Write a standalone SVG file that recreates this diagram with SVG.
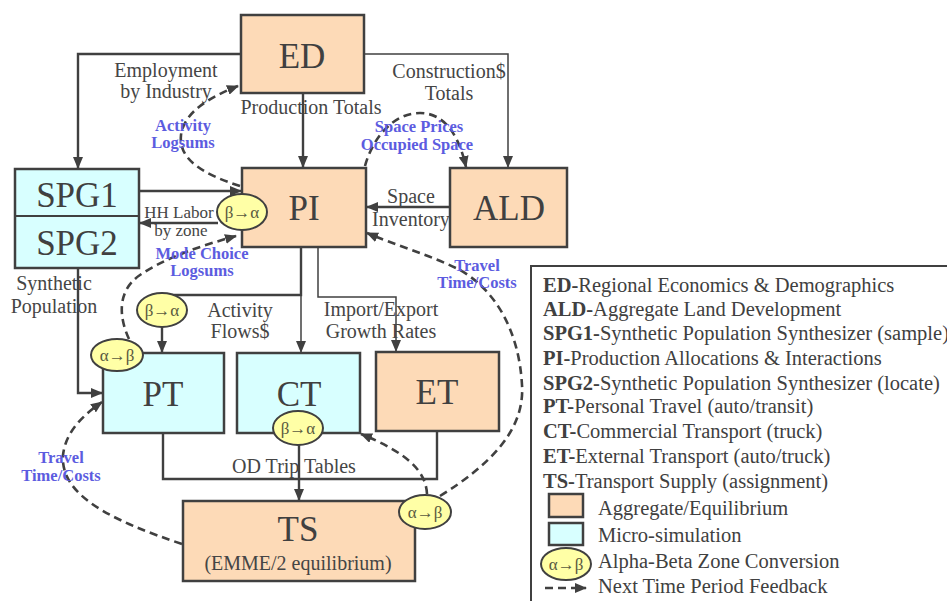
<svg xmlns="http://www.w3.org/2000/svg" width="947" height="601" viewBox="0 0 947 601">
<defs>
<marker id="ah" markerUnits="userSpaceOnUse" markerWidth="12" markerHeight="10" refX="11" refY="5" orient="auto">
<path d="M0,0 L12,5 L0,10 z" fill="#404040"/>
</marker>
<style>
.agg{fill:#FDDAB7;stroke:#404040;stroke-width:2.5}
.mic{fill:#D8FFFF;stroke:#404040;stroke-width:2.5}
.ell{fill:#FFFFA6;stroke:#404040;stroke-width:2}
.big{font-family:"Liberation Serif",serif;font-size:35px;fill:#404040;text-anchor:middle}
.lbl{font-family:"Liberation Serif",serif;font-size:20px;fill:#454545;text-anchor:middle}
.blue{font-family:"Liberation Serif",serif;font-size:16.5px;font-weight:bold;fill:#5C5CE0;text-anchor:middle}
.et{font-family:"Liberation Serif",serif;font-size:17px;fill:#5a5a40;text-anchor:middle}
.leg{font-family:"Liberation Serif",serif;font-size:20.5px;fill:#404040}
.ln{fill:none;stroke:#404040;stroke-width:2.4}
.thin{fill:none;stroke:#404040;stroke-width:1.5}
.dash{fill:none;stroke:#404040;stroke-width:2.6;stroke-dasharray:8,5}
</style>
</defs>
<rect width="947" height="601" fill="#fff"/>

<g id="connectors">
<path class="ln" d="M241,54 H78 V168" marker-end="url(#ah)"/>
<path class="thin" d="M364,54 H508 V167" marker-end="url(#ah)"/>
<path class="ln" d="M303,93 V167" marker-end="url(#ah)"/>
<path class="ln" d="M139,191 H241" marker-end="url(#ah)"/>
<path class="ln" d="M218,223 H140" marker-end="url(#ah)"/>
<path class="ln" d="M450,207 H367" marker-end="url(#ah)"/>
<path class="ln" d="M301,247 V295 H172"/>
<path class="thin" d="M301,295 V352" marker-end="url(#ah)"/>
<path class="ln" d="M162,327 V352" marker-end="url(#ah)"/>
<path class="thin" d="M318,247 V297 H396 V351" marker-end="url(#ah)"/>
<path class="ln" d="M78,268 V393 H102" marker-end="url(#ah)"/>
<path class="ln" d="M163,433 V479 H437 V431"/>
<path class="ln" d="M299,445 V500" marker-end="url(#ah)"/>
<path class="dash" d="M240,186 C205,175 178,160 181,135 C184,112 210,97 238,86" marker-end="url(#ah)"/>
<path class="dash" d="M365,166 C372,140 392,113 420,113 C447,113 460,140 466,167" marker-end="url(#ah)"/>
<path class="dash" d="M129,339 C118,315 118,290 140,275 C165,258 200,246 236,236" marker-end="url(#ah)"/>
<path class="dash" d="M182,544 C110,520 60,495 63,455 C66,430 85,414 102,402" marker-end="url(#ah)"/>
<path class="dash" d="M440,496 C490,465 525,430 522,385 C519,330 495,290 460,270 C430,255 395,245 367,233" marker-end="url(#ah)"/>
<path class="dash" d="M427,494 C426,470 405,452 361,434" marker-end="url(#ah)"/>
</g>

<g id="ED"><rect class="agg" x="241" y="15" width="123" height="78"/><text class="big" x="302" y="68">ED</text></g>
<g id="PI"><rect class="agg" x="242" y="168" width="124" height="79"/><text class="big" x="304" y="220">PI</text></g>
<g id="ALD"><rect class="agg" x="450" y="168" width="117" height="79"/><text class="big" x="509" y="220">ALD</text></g>
<g id="SPG"><rect class="mic" x="15" y="169" width="124" height="99"/><line x1="15" y1="216" x2="139" y2="216" stroke="#404040" stroke-width="2"/><text class="big" x="77" y="207">SPG1</text><text class="big" x="77" y="255">SPG2</text></g>
<g id="PT"><rect class="mic" x="103" y="353" width="121" height="80"/><text class="big" x="163" y="406">PT</text></g>
<g id="CT"><rect class="mic" x="237" y="353" width="123" height="80"/><text class="big" x="299" y="406">CT</text></g>
<g id="ET"><rect class="agg" x="376" y="352" width="123" height="79"/><text class="big" x="437" y="404">ET</text></g>
<g id="TS"><rect class="agg" x="183" y="501" width="232" height="80"/><text class="big" x="298" y="541">TS</text><text class="lbl" x="298" y="570">(EMME/2 equilibrium)</text></g>

<g id="conv1"><ellipse class="ell" cx="242" cy="212" rx="25" ry="18"/><text class="et" x="242" y="218">β→α</text></g>
<g id="conv2"><ellipse class="ell" cx="162" cy="310" rx="25" ry="17"/><text class="et" x="162" y="316">β→α</text></g>
<g id="conv3"><ellipse class="ell" cx="117" cy="355" rx="26" ry="16"/><text class="et" x="117" y="361">α→β</text></g>
<g id="conv4"><ellipse class="ell" cx="298" cy="428" rx="25" ry="17"/><text class="et" x="298" y="434">β→α</text></g>
<g id="conv5"><ellipse class="ell" cx="425" cy="512" rx="26" ry="17"/><text class="et" x="425" y="518">α→β</text></g>

<g id="labels">
<text class="lbl" x="166" y="77">Employment</text>
<text class="lbl" x="166" y="98">by Industry</text>
<text class="lbl" x="311" y="114">Production Totals</text>
<text class="lbl" x="449" y="78">Construction$</text>
<text class="lbl" x="449" y="100">Totals</text>
<text class="lbl" x="411" y="203">Space</text>
<text class="lbl" x="411" y="226">Inventory</text>
<text class="lbl" x="179" y="218" style="font-size:17px">HH Labor</text>
<text class="lbl" x="181" y="236" style="font-size:17px">by zone</text>
<text class="lbl" x="54" y="290">Synthetic</text>
<text class="lbl" x="54" y="313">Population</text>
<text class="lbl" x="240" y="317">Activity</text>
<text class="lbl" x="240" y="338">Flows$</text>
<text class="lbl" x="381" y="316">Import/Export</text>
<text class="lbl" x="381" y="338">Growth Rates</text>
<text class="lbl" x="294" y="473">OD Trip Tables</text>
<text class="blue" x="183" y="131">Activity</text>
<text class="blue" x="183" y="148">Logsums</text>
<text class="blue" x="419" y="132">Space Prices</text>
<text class="blue" x="417" y="150">Occupied Space</text>
<text class="blue" x="202" y="259">Mode Choice</text>
<text class="blue" x="202" y="276">Logsums</text>
<text class="blue" x="477" y="271">Travel</text>
<text class="blue" x="477" y="288">Time/Costs</text>
<text class="blue" x="61" y="463">Travel</text>
<text class="blue" x="61" y="481">Time/Costs</text>
</g>

<g id="legend">
<rect x="531" y="266" width="440" height="400" fill="#fff" stroke="#404040" stroke-width="2"/>
<text class="leg" x="543" y="292"><tspan font-weight="bold">ED-</tspan>Regional Economics &amp; Demographics</text>
<text class="leg" x="543" y="316"><tspan font-weight="bold">ALD-</tspan>Aggregate Land Development</text>
<text class="leg" x="543" y="340"><tspan font-weight="bold">SPG1-</tspan>Synthetic Population Synthesizer (sample)</text>
<text class="leg" x="543" y="365"><tspan font-weight="bold">PI-</tspan>Production Allocations &amp; Interactions</text>
<text class="leg" x="543" y="390"><tspan font-weight="bold">SPG2-</tspan>Synthetic Population Synthesizer (locate)</text>
<text class="leg" x="543" y="413"><tspan font-weight="bold">PT-</tspan>Personal Travel (auto/transit)</text>
<text class="leg" x="543" y="438"><tspan font-weight="bold">CT-</tspan>Commercial Transport (truck)</text>
<text class="leg" x="543" y="463"><tspan font-weight="bold">ET-</tspan>External Transport (auto/truck)</text>
<text class="leg" x="543" y="488"><tspan font-weight="bold">TS-</tspan>Transport Supply (assignment)</text>
<rect class="agg" x="549" y="494" width="34" height="23" stroke-width="2"/>
<text class="leg" x="598" y="515">Aggregate/Equilibrium</text>
<rect class="mic" x="549" y="523" width="34" height="22" stroke-width="2"/>
<text class="leg" x="598" y="542">Micro-simulation</text>
<ellipse class="ell" cx="566" cy="564" rx="25" ry="16"/>
<text class="et" x="566" y="570">α→β</text>
<text class="leg" x="598" y="568">Alpha-Beta Zone Conversion</text>
<path class="dash" d="M545,588 H586" stroke-width="2.2" stroke-dasharray="6,4" marker-end="url(#ah)"/>
<text class="leg" x="598" y="593">Next Time Period Feedback</text>
</g>
</svg>
